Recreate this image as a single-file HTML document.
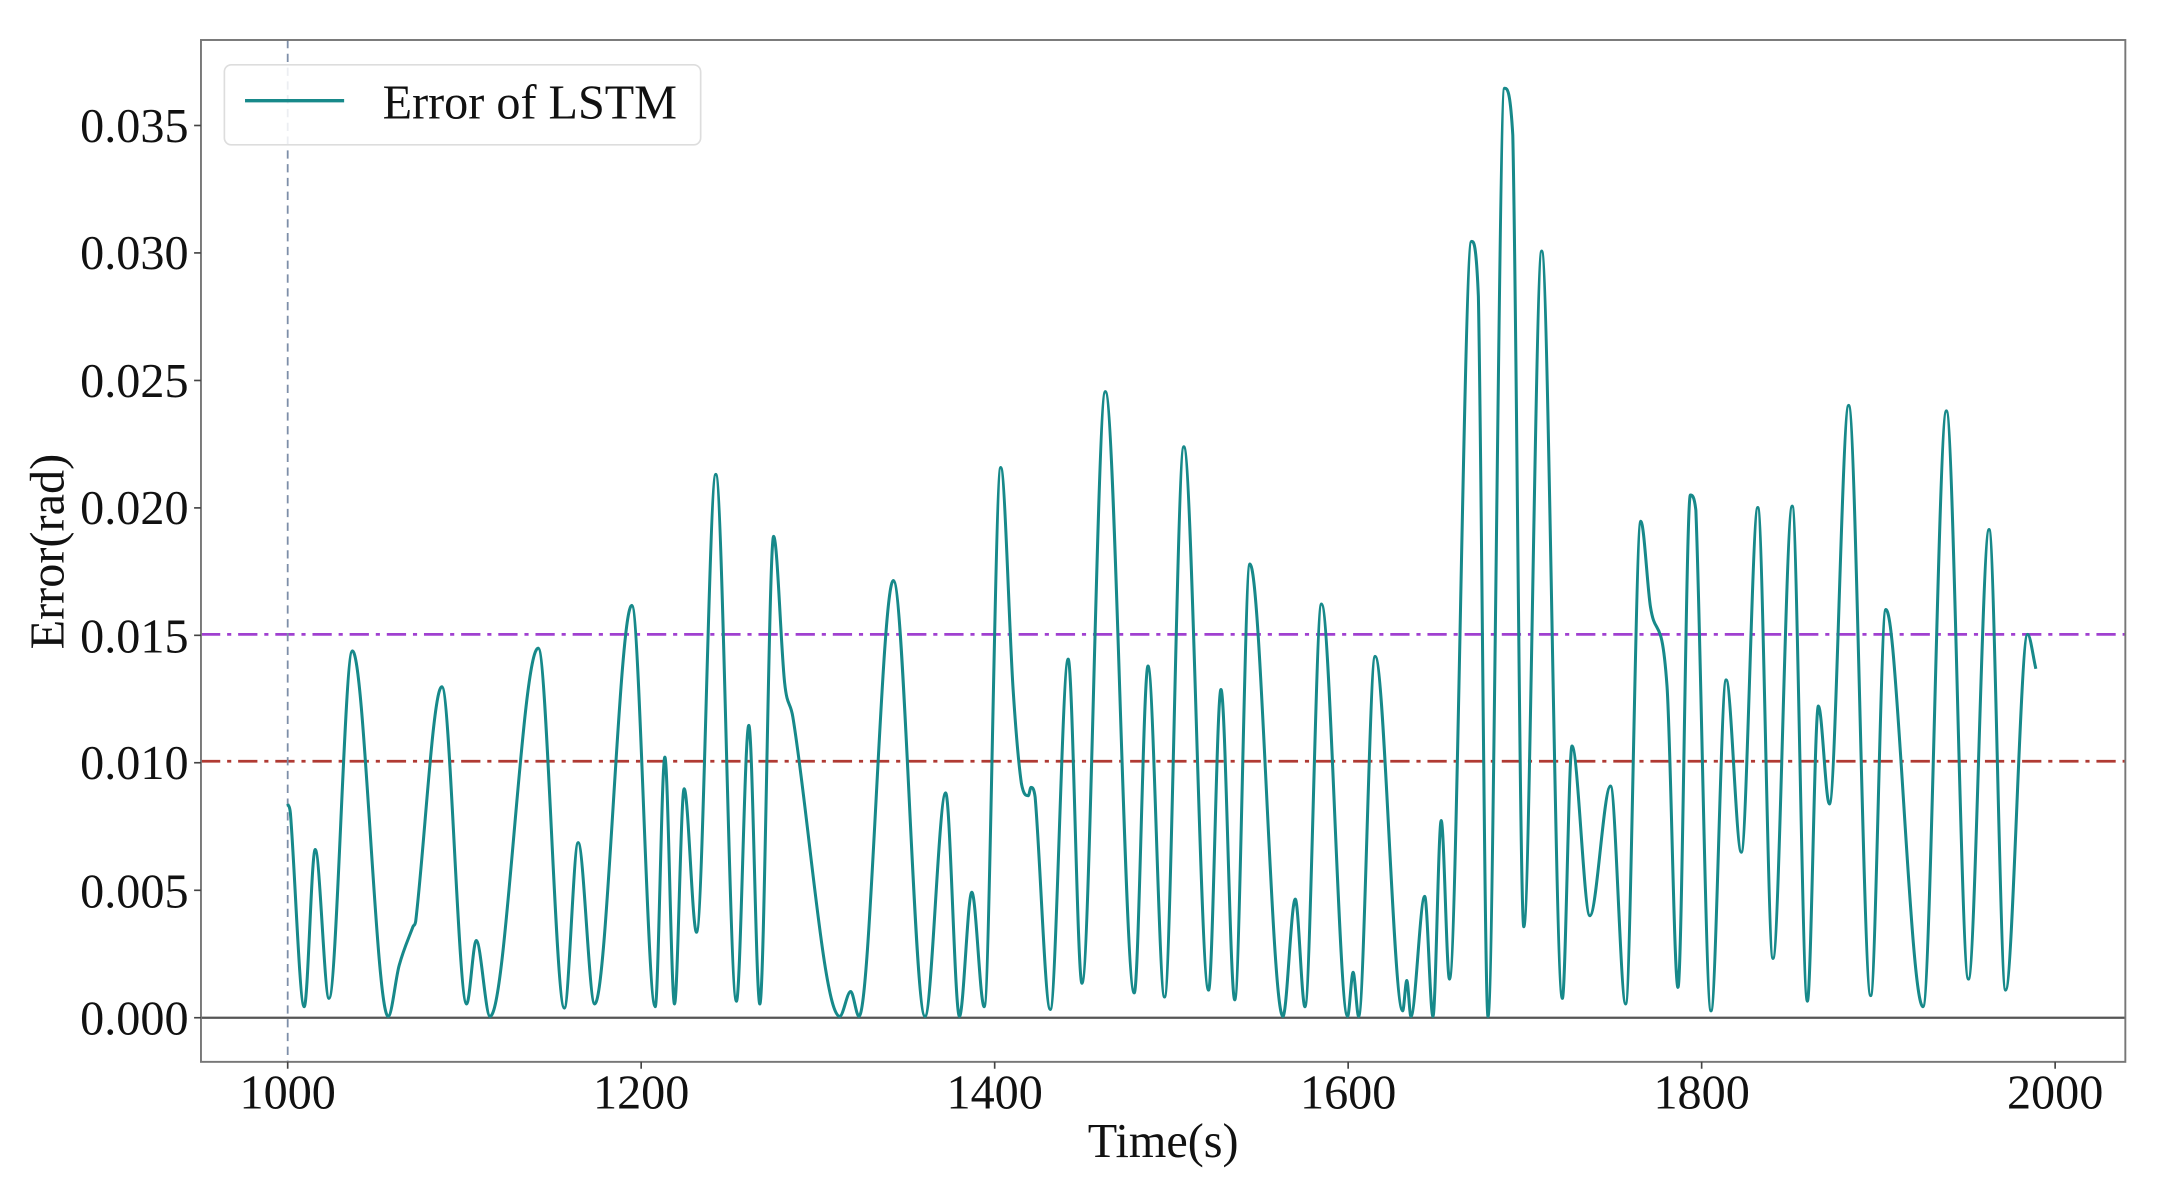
<!DOCTYPE html>
<html><head><meta charset="utf-8"><style>
html,body{margin:0;padding:0;background:#fff;}
svg{display:block;}
text{font-family:"Liberation Serif",serif;fill:#111;}
</style></head><body>
<svg id="s" width="2157" height="1197" viewBox="0 0 1567 868" preserveAspectRatio="none" xmlns="http://www.w3.org/2000/svg">
<rect x="0" y="0" width="1567" height="868" fill="#fff"/>
<line x1="146" y1="460" x2="1544" y2="460" stroke="#a040d0" stroke-width="2" stroke-dasharray="14,5,3,5"/>
<line x1="146" y1="552" x2="1544" y2="552" stroke="#b03a33" stroke-width="2" stroke-dasharray="14,5,3,5"/>
<line x1="209" y1="29" x2="209" y2="770" stroke="#7d8ea8" stroke-width="1.3" stroke-dasharray="6,4"/>
<line x1="146" y1="738" x2="1544" y2="738" stroke="#555" stroke-width="1.6"/>
<path id="curve" fill="none" stroke="#17898a" stroke-width="2.2" stroke-linejoin="round"/>
<rect x="146" y="29" width="1398" height="741" fill="none" stroke="#777" stroke-width="1.4"/>
<g stroke="#444" stroke-width="1.2">
<line x1="141" y1="738" x2="146" y2="738"/><line x1="141" y1="645.6" x2="146" y2="645.6"/>
<line x1="141" y1="553.1" x2="146" y2="553.1"/><line x1="141" y1="460.7" x2="146" y2="460.7"/>
<line x1="141" y1="368.3" x2="146" y2="368.3"/><line x1="141" y1="275.9" x2="146" y2="275.9"/>
<line x1="141" y1="183.4" x2="146" y2="183.4"/><line x1="141" y1="91" x2="146" y2="91"/>
<line x1="209" y1="770" x2="209" y2="775"/><line x1="465.8" y1="770" x2="465.8" y2="775"/>
<line x1="722.6" y1="770" x2="722.6" y2="775"/><line x1="979.4" y1="770" x2="979.4" y2="775"/>
<line x1="1236.2" y1="770" x2="1236.2" y2="775"/><line x1="1493" y1="770" x2="1493" y2="775"/>
</g>
<g font-size="35" text-anchor="end">
<text x="137" y="750">0.000</text><text x="137" y="658">0.005</text>
<text x="137" y="565">0.010</text><text x="137" y="473">0.015</text>
<text x="137" y="380">0.020</text><text x="137" y="288">0.025</text>
<text x="137" y="195">0.030</text><text x="137" y="103">0.035</text>
</g>
<g font-size="35" text-anchor="middle">
<text x="209" y="804">1000</text><text x="465.8" y="804">1200</text>
<text x="722.6" y="804">1400</text><text x="979.4" y="804">1600</text>
<text x="1236.2" y="804">1800</text><text x="1493" y="804">2000</text>
<text x="845" y="839">Time(s)</text>
<text transform="translate(46,400) rotate(-90)">Error(rad)</text>
</g>
<rect x="163" y="47" width="346" height="58" rx="5" fill="#fff" fill-opacity="0.85" stroke="#ddd" stroke-width="1.2"/>
<line x1="178" y1="73" x2="250" y2="73" stroke="#17898a" stroke-width="2.5"/>
<text x="278" y="86" font-size="35">Error of LSTM</text>
</svg>
<script>
var P=[[209,583],[211,590],[221,730],[229,616],[239,724],[256,472],[282,737],[290,700],[300,672],[302,668],[321,498],[339,728],[346,682],[356,737],[391,470],[410,731],[420,611],[432,728],[459,439],[476,730],[483,549],[490,728],[497,572],[506,676],[520,344],[535,726],[544,526],[552,728],[562,389],[570,495],[576,520],[610,737],[618,719],[624,737],[649,421],[672,737],[687,575],[697,737],[706,647],[715,730],[727,339],[736,500],[742,568],[747,577],[749,571],[752,578],[763,732],[776,478],[786,713],[803,284],[824,720],[834,483],[846,723],[860,324],[878,718],[887,500],[897,725],[908,409],[932,737],[941,652],[948,730],[960,438],[979,737],[983,705],[987,737],[999,476],[1019,733],[1022,711],[1025,737],[1035,650],[1041,737],[1047,595],[1053,710],[1069,175],[1074,215],[1081,737],[1093,64],[1099,98],[1107,672],[1120,182],[1135,724],[1142,541],[1155,664],[1170,570],[1181,728],[1192,378],[1199,440],[1211,497],[1219,716],[1228,359],[1232,370],[1243,733],[1254,493],[1265,618],[1277,368],[1288,695],[1302,367],[1313,726],[1321,512],[1329,583],[1343,294],[1359,722],[1370,442],[1375,470],[1397,730],[1414,298],[1430,710],[1445,384],[1457,718],[1473,460],[1479,485]];
var n=P.length,T=[];
for(var i=0;i<n;i++){
 var a=P[i>0?i-1:0],b=P[i],c=P[i<n-1?i+1:n-1];
 var dx=(c[0]-a[0]),dy=(c[1]-a[1]);
 if(i>0&&i<n-1&&((b[1]-a[1])*(c[1]-b[1])<=0)) dy=0;
 T.push([dx,dy]);
}
var d="M"+P[0][0]+","+P[0][1];
for(var i=0;i<n-1;i++){
 var p1=P[i],p2=P[i+1],h=(p2[0]-p1[0]);
 var s1=h/(T[i][0]||1)/3, s2=h/(T[i+1][0]||1)/3;
 var c1x=p1[0]+T[i][0]*s1,c1y=p1[1]+T[i][1]*s1;
 var c2x=p2[0]-T[i+1][0]*s2,c2y=p2[1]-T[i+1][1]*s2;
 var lo=Math.min(p1[1],p2[1]),hi=Math.max(p1[1],p2[1]);
 c1y=Math.max(lo,Math.min(hi,c1y));c2y=Math.max(lo,Math.min(hi,c2y));
 d+=" C"+c1x.toFixed(1)+","+c1y.toFixed(1)+" "+c2x.toFixed(1)+","+c2y.toFixed(1)+" "+p2[0]+","+p2[1];
}
document.getElementById("curve").setAttribute("d",d);
</script>
</body></html>
